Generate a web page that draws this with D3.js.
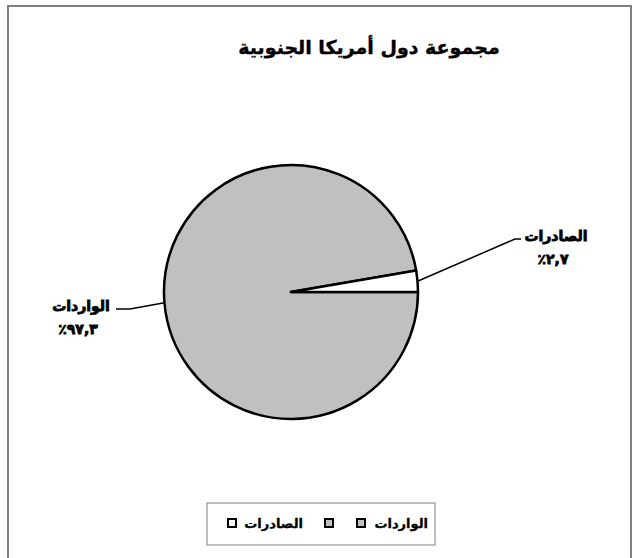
<!DOCTYPE html>
<html>
<head>
<meta charset="utf-8">
<script src="https://cdn.jsdelivr.net/npm/d3@7"></script>
<style>
  body { margin: 0; background: #fff; }
  text { font-family: "DejaVu Sans", sans-serif; }
</style>
</head>
<body>
<div id="chart"></div>
<script>
// data
const categories = ['الواردات', 'الصادرات'];
const values = [97.3, 2.7];
const valueLabels = ['٩٧,٣٪', '٢,٧٪'];
const title = 'مجموعة دول أمريكا الجنوبية';

const colors = ['#c0c0c0', '#ffffff'];

const width = 634;
const height = 558;
const cx = 291, cy = 292, radius = 127;

const svg = d3.select('#chart')
  .append('svg')
  .attr('width', width)
  .attr('height', height);

// outer frame
svg.append('rect')
  .attr('x', 8).attr('y', 6)
  .attr('width', 623).attr('height', 560)
  .attr('fill', 'none')
  .attr('stroke', '#808080')
  .attr('stroke-width', 2);

svg.append('text')
  .attr('x', 369).attr('y', 54)
  .attr('text-anchor', 'middle')
  .attr('direction', 'rtl')
  .attr('font-size', 19)
  .attr('font-weight', 'bold')
  .attr('stroke', '#000')
  .attr('stroke-width', 0.4)
  .text(title);

const data = categories.map((c, i) => ({ name: c, value: values[i], label: valueLabels[i], color: colors[i] }));

// first slice starts at 3 o'clock, clockwise
const pie = d3.pie()
  .sort(null)
  .value(d => d.value)
  .startAngle(Math.PI / 2)
  .endAngle(Math.PI / 2 + 2 * Math.PI);

const arc = d3.arc().innerRadius(0).outerRadius(radius);
const arcs = pie(data);

const g = svg.append('g').attr('transform', `translate(${cx},${cy})`);

g.selectAll('path')
  .data(arcs)
  .join('path')
    .attr('d', arc)
    .attr('fill', d => d.data.color)
    .attr('stroke', '#000')
    .attr('stroke-width', 2.5)
    .attr('stroke-linejoin', 'round');

// label placement (excel style), relative to pie centre
const labelPos = [
  { tx: -210, ty: 5, ly: 17, elbow: -161, end: -175 },
  { tx: 265, ty: -65, ly: -53, elbow: 224, end: 230 }
];

arcs.forEach((a, i) => {
  const mid = (a.startAngle + a.endAngle) / 2;
  const ex = Math.sin(mid) * radius;
  const ey = -Math.cos(mid) * radius;
  const p = labelPos[i];
  g.append('polyline')
    .attr('points', [[ex, ey], [p.elbow, p.ly], [p.end, p.ly]].map(q => q.join(',')).join(' '))
    .attr('fill', 'none')
    .attr('stroke', '#000')
    .attr('stroke-width', 1.5);

  const t = g.append('text')
    .attr('text-anchor', 'middle')
    .attr('font-weight', 'bold')
    .attr('font-size', 14)
    .attr('stroke', '#000')
    .attr('stroke-width', 0.8)
    .attr('direction', 'rtl');
  t.append('tspan').attr('x', p.tx).attr('y', p.ty + 14).text(a.data.name);
  t.append('tspan').attr('x', p.tx - 3).attr('y', p.ty + 37).text(a.data.label);
});

// legend
const legend = svg.append('g');
legend.append('rect')
  .attr('x', 207).attr('y', 503)
  .attr('width', 228).attr('height', 42)
  .attr('fill', '#fff')
  .attr('stroke', '#808080')
  .attr('stroke-width', 1);

const legendItems = [
  { box: colors[0], text: categories[0], bx: 357, tx: 428 },
  { box: colors[0], text: '', bx: 325, tx: 0 },
  { box: colors[1], text: categories[1], bx: 228, tx: 303 }
];

legendItems.forEach(d => {
  legend.append('rect')
    .attr('x', d.bx).attr('y', 519)
    .attr('width', 8).attr('height', 8)
    .attr('fill', d.box)
    .attr('stroke', '#000')
    .attr('stroke-width', 2);
  if (d.text) {
    legend.append('text')
      .attr('x', d.tx).attr('y', 528)
      .attr('text-anchor', 'end')
      .attr('font-size', 13)
      .attr('font-weight', 'bold')
      .attr('stroke', '#000')
      .attr('stroke-width', 0.3)
      .text(d.text);
  }
});
</script>
</body>
</html>
